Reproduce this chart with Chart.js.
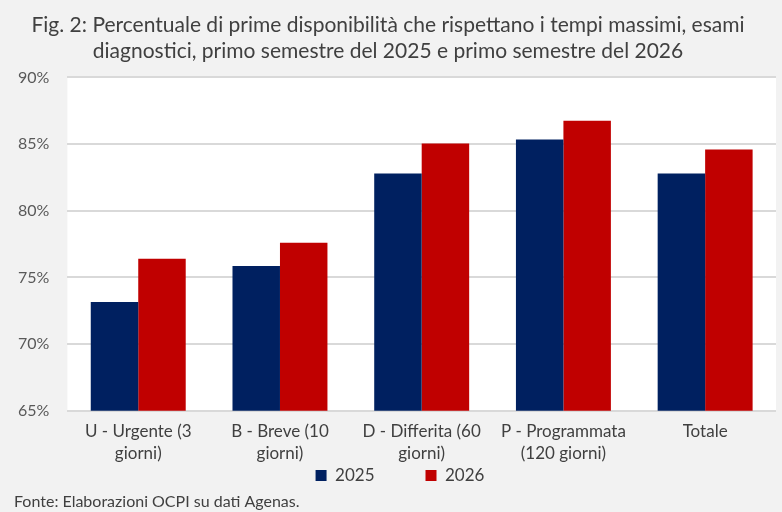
<!DOCTYPE html>
<html>
<head>
<meta charset="utf-8">
<script src="https://cdn.jsdelivr.net/npm/chart.js@4"></script>
<style>
  body { margin: 0; background: #f2f2f2; }
  #wrap { width: 782px; height: 512px; }
</style>
</head>
<body>
<div id="wrap"><canvas id="myChart" width="782" height="512"></canvas></div>
<script>
// categories on the x axis (two text lines each)
const tags = [
  ['U - Urgente (3', 'giorni)'],
  ['B - Breve (10', 'giorni)'],
  ['D - Differita (60', 'giorni)'],
  ['P - Programmata', '(120 giorni)'],
  'Totale'
];
const years = ['2025', '2026'];
const marks2025 = [73.15, 75.85, 82.8, 85.35, 82.8];
const marks2026 = [76.4, 77.6, 85.05, 86.75, 84.6];
const yTicks = [65, 70, 75, 80, 85, 90];

const fontName = 'Lato, "Open Sans", sans-serif';

// white plot area on the grey page, legend nudged a bit to the right
const plotBg = {
  id: 'plotBg',
  afterLayout(chart) {
    if (chart.legend) {
      chart.legend.left += 12;
      chart.legend.right += 12;
    }
  },
  beforeDraw(chart) {
    const a = chart.chartArea;
    const ctx = chart.ctx;
    ctx.save();
    ctx.fillStyle = '#ffffff';
    ctx.fillRect(a.left, a.top, a.right - a.left, a.bottom - a.top);
    ctx.restore();
  }
};

const data = {
  labels: tags,
  datasets: [{
    label: years[0],
    data: marks2025,
    backgroundColor: '#002060'
  }, {
    label: years[1],
    data: marks2026,
    backgroundColor: '#c00000'
  }]
};

const config = {
  type: 'bar',
  data: data,
  options: {
    responsive: false,
    animation: false,
    categoryPercentage: 0.67,
    barPercentage: 1.0,
    layout: { padding: { left: 0, right: 6, top: 0, bottom: 0 } },
    scales: {
      x: {
        grid: { display: false },
        border: { display: false },
        ticks: {
          color: '#404040',
          font: { family: fontName, size: 17, lineHeight: 1.3 },
          maxRotation: 0,
          padding: 2
        }
      },
      y: {
        min: yTicks[0],
        max: yTicks[yTicks.length - 1],
        afterBuildTicks(axis) {
          axis.ticks = yTicks.map(v => ({ value: v }));
        },
        grid: { color: '#d9d9d9', lineWidth: 2, drawTicks: false },
        border: { display: false },
        ticks: {
          color: '#595959',
          font: { family: fontName, size: 16 },
          padding: 18,
          callback: v => v + '%'
        }
      }
    },
    plugins: {
      title: {
        display: true,
        text: ['Fig. 2: Percentuale di prime disponibilità che rispettano i tempi massimi, esami',
               'diagnostici, primo semestre del 2025 e primo semestre del 2026'],
        color: '#404040',
        font: { family: fontName, size: 21, weight: 'normal', lineHeight: 1.2 },
        padding: { top: 13, bottom: 14 }
      },
      legend: {
        position: 'bottom',
        labels: {
          color: '#404040',
          font: { family: fontName, size: 17, lineHeight: 1.0 },
          boxWidth: 11,
          boxHeight: 11,
          padding: 0,
          // wider gap between the two legend entries
          generateLabels(chart) {
            const items = Chart.defaults.plugins.legend.labels.generateLabels(chart);
            items.forEach((it, i) => {
              if (i < items.length - 1) it.text = it.text + '\u2003\u2003\u2003\u2003';
            });
            return items;
          }
        }
      },
      subtitle: {
        display: true,
        position: 'bottom',
        align: 'start',
        text: '\u2003\u2009Fonte: Elaborazioni OCPI su dati Agenas.',
        color: '#404040',
        font: { family: fontName, size: 16, lineHeight: 1.0 },
        padding: { top: 0, bottom: 2 }
      },
      tooltip: { enabled: false }
    }
  },
  plugins: [plotBg]
};

const myChart = new Chart(document.getElementById('myChart'), config);
</script>
</body>
</html>
